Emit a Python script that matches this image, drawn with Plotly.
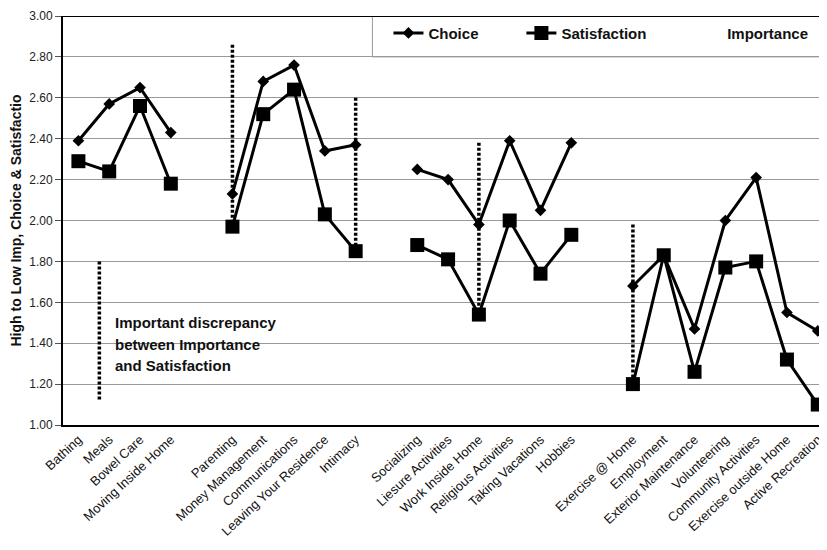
import plotly.graph_objects as go

categories = ["Bathing", "Meals", "Bowel Care", "Moving Inside Home", " ",
              "Parenting", "Money Management", "Communications", "Leaving Your Residence", "Intimacy", "  ",
              "Socializing", "Liesure Activities", "Work Inside Home", "Religious Activities", "Taking Vacations", "Hobbies", "   ",
              "Exercise @ Home", "Employment", "Exterior Maintenance", "Volunteering", "Community Activities",
              "Exercise outside Home", "Active Recreation"]

choice = [2.39, 2.57, 2.65, 2.43, None,
          2.13, 2.68, 2.76, 2.34, 2.37, None,
          2.25, 2.20, 1.98, 2.39, 2.05, 2.38, None,
          1.68, 1.83, 1.47, 2.00, 2.21, 1.55, 1.46]

satisfaction = [2.29, 2.24, 2.56, 2.18, None,
                1.97, 2.52, 2.64, 2.03, 1.85, None,
                1.88, 1.81, 1.54, 2.00, 1.74, 1.93, None,
                1.20, 1.83, 1.26, 1.77, 1.80, 1.32, 1.10]

# dotted discrepancy markers: (category, top value, bottom value)
discrepancy = [("Parenting", 2.86, 1.97), ("Intimacy", 2.60, 1.88),
               ("Work Inside Home", 2.38, 1.55), ("Exercise @ Home", 1.98, 1.22)]
example_marker = (0.68, 1.80, 1.12)

note_lines = ["Important discrepancy", "between Importance", "and Satisfaction"]
note_y = [1.50, 1.395, 1.29]

y_ticks = [1.0, 1.2, 1.4, 1.6, 1.8, 2.0, 2.2, 2.4, 2.6, 2.8, 3.0]

font_family = "Liberation Sans, Arial, sans-serif"

fig = go.Figure()
fig.add_trace(go.Scatter(
    x=categories, y=choice, name="Choice", mode="lines+markers",
    line=dict(color="black", width=3), marker=dict(symbol="diamond", size=9, color="black"),
    connectgaps=False, legend="legend"))
fig.add_trace(go.Scatter(
    x=categories, y=satisfaction, name="Satisfaction", mode="lines+markers",
    line=dict(color="black", width=3), marker=dict(symbol="square", size=14, color="black"),
    connectgaps=False, legend="legend2"))
fig.add_trace(go.Scatter(
    x=[None], y=[None], name="Importance", mode="lines",
    line=dict(color="white", width=3), legend="legend3"))

for cat, top, bot in discrepancy:
    idx = categories.index(cat)
    fig.add_shape(type="line", x0=idx, x1=idx, y0=top, y1=bot, xref="x", yref="y",
                  line=dict(color="black", width=3.5, dash="3px,2px"))
fig.add_shape(type="line", x0=example_marker[0], x1=example_marker[0],
              y0=example_marker[1], y1=example_marker[2], xref="x", yref="y",
              line=dict(color="black", width=3.5, dash="3px,2px"))

# legend box and top frame
fig.add_shape(type="rect", x0=0.405, x1=1.0, y0=2.8, y1=3.0, xref="paper", yref="y",
              line=dict(color="#999", width=1), layer="below")
fig.add_shape(type="line", x0=0, x1=1, y0=3.0, y1=3.0, xref="paper", yref="y",
              line=dict(color="black", width=2))

for txt, yv in zip(note_lines, note_y):
    fig.add_annotation(x=0.0655, y=yv, xref="paper", yref="y", xanchor="left", yanchor="middle",
                       text=txt, showarrow=False, align="left",
                       font=dict(family=font_family, size=15, color="#111", weight="bold"))

legend_common = dict(orientation="h", yanchor="middle", xanchor="left", bgcolor="rgba(0,0,0,0)",
                     font=dict(family=font_family, size=15, color="#111", weight="bold"),
                     itemwidth=30, tracegroupgap=0)

# the page body adds an 8px offset, so the figure is 8px smaller with margins reduced accordingly
fig.update_layout(
    width=819, height=542,
    margin=dict(l=55, r=0, t=8, b=125),
    paper_bgcolor="white", plot_bgcolor="white",
    showlegend=True,
    legend=dict(x=0.426, y=0.958, **legend_common),
    legend2=dict(x=0.600, y=0.958, **legend_common),
    legend3=dict(x=0.817, y=0.958, **legend_common),
    xaxis=dict(
        type="category", categoryorder="array", categoryarray=categories,
        range=[-0.5, 24.3], tickangle=-43, automargin=False,
        tickfont=dict(family=font_family, size=13, color="#111"),
        showgrid=False, showline=True, linecolor="black", linewidth=2,
        ticks="", zeroline=False),
    yaxis=dict(
        range=[1.0, 3.0], tickvals=y_ticks, tickformat=".2f", automargin=False,
        tickfont=dict(family=font_family, size=12, color="#222"),
        showgrid=True, gridcolor="#999", gridwidth=1,
        showline=True, linecolor="black", linewidth=2,
        ticks="outside", ticklen=6, tickcolor="#555",
        zeroline=False,
        title=dict(text="High to Low Imp, Choice & Satisfactio",
                   font=dict(family=font_family, size=14, color="#111", weight="bold"),
                   standoff=4)),
)

fig.write_html("out.html")
